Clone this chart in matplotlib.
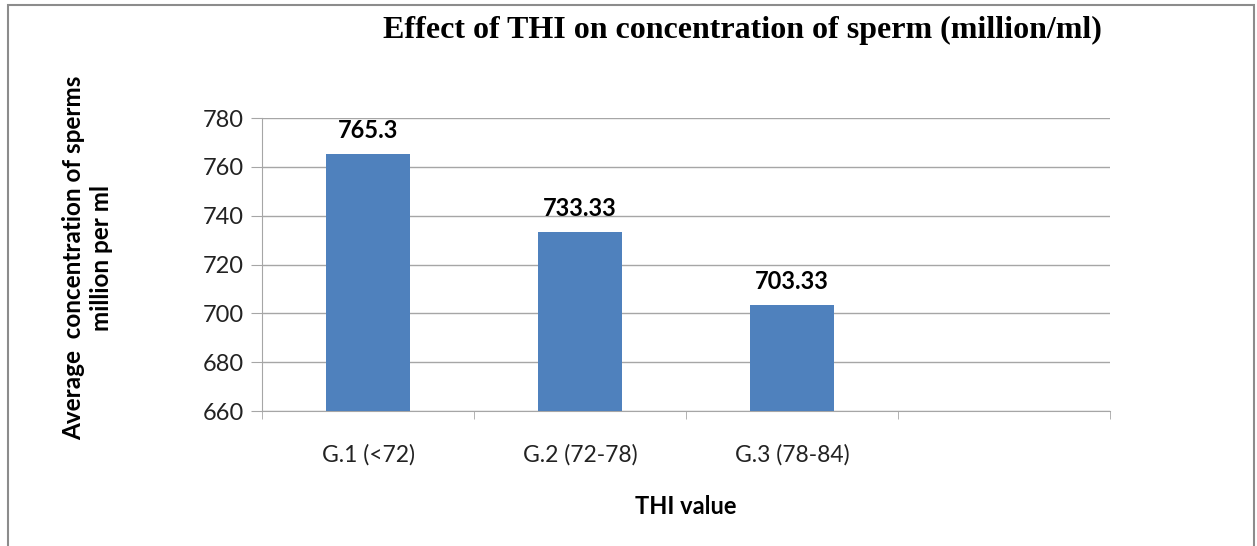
import matplotlib.pyplot as plt
from matplotlib.patches import Rectangle

# dados
grupos = ["G.1 (<72)", "G.2 (72-78)", "G.3 (78-84)", ""]
concentracao = [765.3, 733.33, 703.33, None]
rotulos = ["765.3", "733.33", "703.33"]

cor_barra = "#4f81bd"
cor_eixo = "#a6a6a6"
fonte = "Lato"

fig = plt.figure(figsize=(12.57, 5.46), dpi=100)
ax = fig.add_axes([262 / 1257, 1 - 411 / 546, (1110 - 262) / 1257, (411 - 118) / 546])

pos = list(range(len(grupos)))
alturas = [v if v is not None else 0 for v in concentracao]
barras = ax.bar(pos[:3], [a - 660 for a in alturas[:3]], bottom=660, width=0.4, color=cor_barra, zorder=3)

for b, txt in zip(barras, rotulos):
    ax.text(b.get_x() + b.get_width() / 2, b.get_y() + b.get_height() + 5, txt,
            ha="center", va="bottom", fontsize=17, fontweight="bold", family=fonte)

ax.set_xlim(-0.5, 3.5)
ax.set_ylim(660, 780)
ax.set_yticks(range(660, 781, 20))
ax.set_xticks(pos)
ax.set_xticklabels(grupos, fontsize=16.5, family=fonte, color="#222222")
ax.set_xticks([p - 0.5 for p in pos] + [3.5], minor=True)
ax.tick_params(axis="x", which="major", length=0, pad=24)
ax.tick_params(axis="x", which="minor", length=6, color=cor_eixo, direction="out")
ax.tick_params(axis="y", length=8, color=cor_eixo, labelsize=17, labelcolor="#222222", pad=5)
for lab in ax.get_yticklabels():
    lab.set_family(fonte)

ax.grid(axis="y", color=cor_eixo, linewidth=1, zorder=0)
for lado in ["top", "right"]:
    ax.spines[lado].set_visible(False)
ax.spines["left"].set_color(cor_eixo)
ax.spines["bottom"].set_color(cor_eixo)

fig.text(742 / 1257, 1 - 30 / 546, "Effect of THI on concentration of sperm (million/ml)",
         ha="center", va="center", fontsize=23, fontweight="bold", family="Liberation Serif")
fig.text(88 / 1257, 1 - 258 / 546, "Average  concentration of sperms\nmillion per ml",
         ha="center", va="center", rotation=90, fontsize=17.5, fontweight="bold", family=fonte,
         linespacing=1.25)
fig.text(686 / 1257, 1 - 507 / 546, "THI value", ha="center", va="center",
         fontsize=17, fontweight="bold", family=fonte)

# moldura em volta da figura
fig.patches.append(Rectangle((8 / 1257, -0.01), (1254 - 8) / 1257, 1 - 5 / 546 + 0.01,
                             transform=fig.transFigure, fill=False, edgecolor="#8c8c8c", linewidth=1.5))

fig.savefig("out.png", dpi=100)
